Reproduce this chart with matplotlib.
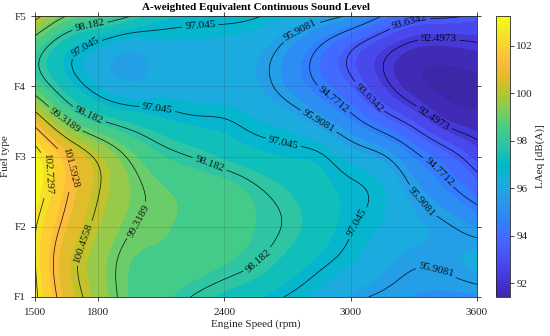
import numpy as np
import matplotlib
matplotlib.use("Agg")
import matplotlib.pyplot as plt
from matplotlib.colors import LinearSegmentedColormap, Normalize
from matplotlib.cm import ScalarMappable

plt.rcParams['font.family'] = ['Liberation Serif', 'DejaVu Serif']

# ---------------- data ----------------
speeds = [1500, 1650, 1800, 1950, 2100, 2250, 2400, 2550, 2700, 2850, 3000, 3150, 3300, 3450, 3600]
fuel_pos = [1.0, 1.5, 2.0, 2.5, 3.0, 3.5, 4.0, 4.5, 5.0]
laeq_F1   = [102.9, 101.1, 99.95, 99.0, 98.6, 98.15, 97.75, 97.4, 97.0, 96.6, 96.1, 95.8, 95.6, 95.5, 95.5]
laeq_F1_5 = [102.75, 100.9, 99.85, 99.05, 98.9, 98.75, 98.5, 98.2, 97.7, 97.2, 96.8, 96.35, 96.0, 96.05, 96.3]
laeq_F2   = [102.8, 101.3, 100.2, 99.4, 99.1, 98.9, 98.75, 98.45, 98.1, 97.6, 97.1, 96.7, 96.3, 96.0, 95.55]
laeq_F2_5 = [103.3, 101.7, 100.5, 99.6, 99.1, 98.9, 98.75, 98.3, 97.9, 97.5, 97.2, 96.8, 95.9, 95.1, 94.3]
laeq_F3   = [103.2, 101.5, 100.25, 99.2, 98.5, 98.15, 97.8, 97.5, 97.3, 97.15, 96.5, 96.0, 95.0, 94.1, 93.1]
laeq_F3_5 = [101.2, 99.3, 98.3, 97.8, 97.45, 97.2, 97.1, 96.8, 96.5, 95.9, 95.1, 94.2, 93.3, 92.3, 91.9]
laeq_F4   = [98.85, 97.6, 96.75, 96.3, 96.5, 96.5, 96.45, 96.25, 95.55, 94.75, 93.9, 92.8, 91.9, 91.5, 91.45]
laeq_F4_5 = [98.55, 97.35, 96.65, 96.2, 96.5, 96.55, 96.5, 96.3, 95.6, 94.65, 93.65, 92.75, 92.1, 92.0, 92.2]
laeq_F5   = [100.8, 99.3, 98.8, 98.2, 97.5, 97.3, 97.25, 97.1, 96.7, 96.3, 95.75, 94.75, 93.9, 93.75, 93.5]

fuel_ticks = [1, 2, 3, 4, 5]
fuel_labels = ['F1', 'F2', 'F3', 'F4', 'F5']
speed_ticks = [1500, 1800, 2400, 3000, 3600]
line_levels = [92.4973, 93.6342, 94.7712, 95.9081, 97.0450, 98.1820, 99.3189,
               100.4558, 101.5928, 102.7297]
cbar_ticks = [92, 94, 96, 98, 100, 102]
clim = (91.41, 103.26)

# label anchor points (speed, fuel position)
label_spots = [(1762, 4.84), (1729, 4.62), (2286, 4.83), (2762, 4.80), (3290, 4.82),
               (3419, 4.67), (1652, 3.56), (1762, 3.63), (2081, 3.66), (2914, 3.80),
               (3100, 3.88), (3414, 3.63), (2843, 3.48), (2681, 3.21), (3414, 2.77),
               (3357, 2.41), (1524, 2.74), (1643, 2.81), (2319, 2.81), (1729, 1.77),
               (2000, 2.07), (2557, 1.53), (3062, 2.0), (3405, 1.37)]

# ---------------- parula colormap ----------------
parula = [
 (0.2422, 0.1504, 0.6603), (0.2504, 0.1650, 0.7076), (0.2578, 0.1818, 0.7511), (0.2647, 0.1978, 0.7952),
 (0.2706, 0.2147, 0.8364), (0.2751, 0.2342, 0.8710), (0.2783, 0.2559, 0.8991), (0.2803, 0.2782, 0.9221),
 (0.2813, 0.3006, 0.9414), (0.2810, 0.3228, 0.9579), (0.2795, 0.3447, 0.9717), (0.2760, 0.3667, 0.9829),
 (0.2699, 0.3892, 0.9906), (0.2602, 0.4123, 0.9952), (0.2440, 0.4358, 0.9988), (0.2206, 0.4603, 0.9973),
 (0.1963, 0.4847, 0.9892), (0.1834, 0.5074, 0.9798), (0.1786, 0.5289, 0.9682), (0.1764, 0.5499, 0.9520),
 (0.1687, 0.5703, 0.9359), (0.1540, 0.5902, 0.9218), (0.1460, 0.6091, 0.9079), (0.1380, 0.6276, 0.8973),
 (0.1248, 0.6459, 0.8883), (0.1113, 0.6635, 0.8763), (0.0952, 0.6798, 0.8598), (0.0689, 0.6948, 0.8394),
 (0.0297, 0.7082, 0.8163), (0.0036, 0.7203, 0.7917), (0.0067, 0.7312, 0.7660), (0.0433, 0.7411, 0.7394),
 (0.0964, 0.7500, 0.7120), (0.1408, 0.7584, 0.6842), (0.1717, 0.7670, 0.6554), (0.1938, 0.7758, 0.6251),
 (0.2161, 0.7843, 0.5923), (0.2470, 0.7918, 0.5567), (0.2906, 0.7973, 0.5188), (0.3406, 0.8008, 0.4789),
 (0.3909, 0.8029, 0.4354), (0.4456, 0.8024, 0.3909), (0.5044, 0.7993, 0.3480), (0.5616, 0.7942, 0.3045),
 (0.6174, 0.7876, 0.2612), (0.6720, 0.7793, 0.2227), (0.7242, 0.7698, 0.1910), (0.7738, 0.7598, 0.1646),
 (0.8203, 0.7498, 0.1535), (0.8634, 0.7406, 0.1596), (0.9035, 0.7330, 0.1774), (0.9393, 0.7288, 0.2100),
 (0.9728, 0.7298, 0.2394), (0.9956, 0.7434, 0.2371), (0.9970, 0.7659, 0.2199), (0.9952, 0.7893, 0.2028),
 (0.9892, 0.8136, 0.1885), (0.9786, 0.8386, 0.1766), (0.9676, 0.8639, 0.1643), (0.9610, 0.8890, 0.1537),
 (0.9597, 0.9135, 0.1423), (0.9628, 0.9373, 0.1265), (0.9691, 0.9606, 0.1064), (0.9769, 0.9839, 0.0805)]
cmap = LinearSegmentedColormap.from_list('parula', parula, N=256)

# ---------------- smooth surface (natural cubic spline) ----------------
def spline_weights(n, t):
    A = np.zeros((n, n)); D = np.zeros((n, n))
    A[0, 0] = A[-1, -1] = 1.0
    for i in range(1, n - 1):
        A[i, i - 1] = 1; A[i, i] = 4; A[i, i + 1] = 1
        D[i, i - 1] = 6; D[i, i] = -12; D[i, i + 1] = 6
    Mm = np.linalg.solve(A, D)
    i = np.clip(np.floor(t).astype(int), 0, n - 2)
    u = t - i
    W = np.zeros((len(t), n))
    r = np.arange(len(t))
    W[r, i] += 1 - u
    W[r, i + 1] += u
    W += (((1 - u) ** 3 - (1 - u)) / 6)[:, None] * Mm[i] + ((u ** 3 - u) / 6)[:, None] * Mm[i + 1]
    return W

Z = np.array([laeq_F1, laeq_F1_5, laeq_F2, laeq_F2_5, laeq_F3,
              laeq_F3_5, laeq_F4, laeq_F4_5, laeq_F5])
nx, ny = len(speeds), len(fuel_pos)
tx = np.linspace(0, nx - 1, 400)
ty = np.linspace(0, ny - 1, 260)
Zf = spline_weights(ny, ty) @ Z @ spline_weights(nx, tx).T
Xf = np.interp(tx, np.arange(nx), speeds)
Yf = np.interp(ty, np.arange(ny), fuel_pos)

step = line_levels[1] - line_levels[0]
half = step / 2
fill_levels = line_levels[0] - 0.25 * step + half * np.arange(-3, 23)

norm = Normalize(*clim)
# each band takes the colour of its lower bound
band_colors = [cmap(norm(v)) for v in fill_levels[:-1]]

# ---------------- figure ----------------
fig = plt.figure(figsize=(5.5, 3.36), dpi=100)
ax = fig.add_axes([35 / 550, 1 - 297 / 336, 442 / 550, 281 / 336])
cax = fig.add_axes([496 / 550, 1 - 297 / 336, 14 / 550, 281 / 336])

ax.contourf(Xf, Yf, Zf, levels=fill_levels, colors=band_colors)
cl = ax.contour(Xf, Yf, Zf, levels=line_levels, colors='k', linewidths=0.55, alpha=0.85)

def fmt(v):
    return f"{v:.4f}".rstrip('0').rstrip('.')

ax.clabel(cl, manual=label_spots, fmt=fmt, fontsize=8, inline=True, inline_spacing=3)

ax.set_xlim(speeds[0], speeds[-1])
ax.set_ylim(1, 5)
ax.set_xticks(speed_ticks)
ax.set_yticks(fuel_ticks)
ax.set_yticklabels(fuel_labels)
ax.tick_params(axis='both', direction='out', length=3, width=0.6, labelsize=8, top=True, right=True,
               labeltop=False, labelright=False, colors='0.15', labelcolor='0.15')
ax.tick_params(axis='x', pad=5)
ax.grid(True, color='0.15', alpha=0.2, linewidth=0.5)
ax.set_axisbelow(False)
for s in ax.spines.values():
    s.set_linewidth(0.6)
    s.set_color('0.15')
ax.set_xlabel('Engine Speed (rpm)', fontsize=8, color='0.15', labelpad=2)
ax.set_ylabel('Fuel type', fontsize=8, color='0.15', labelpad=3)
ax.set_title('A-weighted Equivalent Continuous Sound Level', fontsize=8, fontweight='bold', pad=4)

sm = ScalarMappable(norm=norm, cmap=cmap)
cb = fig.colorbar(sm, cax=cax)
cb.set_ticks(cbar_ticks)
cb.outline.set_linewidth(0.6)
cb.outline.set_edgecolor('0.15')
cax.tick_params(direction='out', length=3, width=0.6, labelsize=8, pad=1.5,
                colors='0.15', labelcolor='0.15')
cb.set_label('LAeq [dB(A)]', fontsize=8, color='0.15', labelpad=2)

fig.savefig('out.png', dpi=100)
